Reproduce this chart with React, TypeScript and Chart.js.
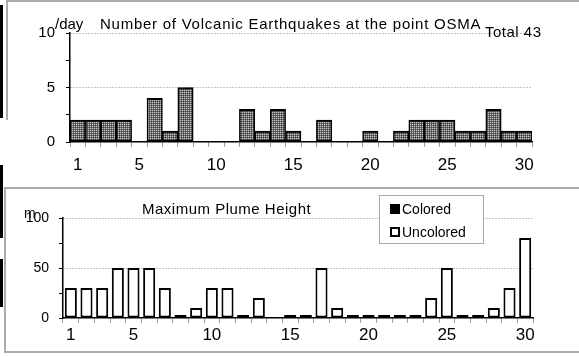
import React, { useEffect, useRef } from "react";
import { Chart, registerables } from "chart.js";

Chart.register(...registerables);

// ---------- data ----------
const dayLabels = [
  "1", "2", "3", "4", "5", "6", "7", "8", "9", "10",
  "11", "12", "13", "14", "15", "16", "17", "18", "19", "20",
  "21", "22", "23", "24", "25", "26", "27", "28", "29", "30",
];
const shownDayTicks = ["1", "5", "10", "15", "20", "25", "30"];

const quakeCounts = [
  2, 2, 2, 2, 0, 4, 1, 5, 0, 0,
  0, 3, 1, 3, 1, 0, 2, 0, 0, 1,
  0, 1, 2, 2, 2, 1, 1, 3, 1, 1,
];
const quakeYTicks = [0, 5, 10];

const plumeColored: (number | null)[] = [];
const plumeUncolored: (number | null)[] = [
  30, 30, 30, 50, 50, 50, 30, 0, 10, 30,
  30, 0, 20, null, 0, 0, 50, 10, 0, 0,
  0, 0, 0, 20, 50, 0, 0, 10, 30, 80,
];
const plumeYTicks = [0, 50, 100];

const quakeTitle = "Number of Volcanic Earthquakes at the point OSMA";
const quakeTotal = "Total 43";
const quakeUnit = "/day";
const plumeTitle = "Maximum Plume Height";
const plumeUnit = "m";
const legendColored = "Colored";
const legendUncolored = "Uncolored";

const FONT = '"Liberation Sans", Arial, sans-serif';

type TextItem = { text: string; x: number; y: number; size: number; ls?: number };

function textPlugin(id: string, items: TextItem[]) {
  return {
    id,
    afterDraw(chart: any) {
      const ctx = chart.ctx as CanvasRenderingContext2D;
      ctx.save();
      ctx.fillStyle = "#000";
      ctx.textBaseline = "alphabetic";
      ctx.textAlign = "left";
      for (const t of items) {
        ctx.font = `${t.size}px ${FONT}`;
        (ctx as any).letterSpacing = `${t.ls || 0}px`;
        ctx.fillText(t.text, t.x, t.y);
      }
      ctx.restore();
    },
  };
}

const legendBoxPlugin = {
  id: "legendBox",
  afterDraw(chart: any) {
    const ctx = chart.ctx as CanvasRenderingContext2D;
    const x = 379, y = 15, w = 104, h = 48;
    ctx.save();
    ctx.fillStyle = "#fff";
    ctx.fillRect(x, y, w, h);
    ctx.strokeStyle = "#a8a8a8";
    ctx.lineWidth = 1;
    ctx.strokeRect(x + 0.5, y + 0.5, w, h);
    chart.data.datasets.forEach((ds: any, i: number) => {
      const top = y + 9 + i * 23;
      ctx.fillStyle = "#000";
      ctx.fillRect(x + 11, top, 10, 10);
      if (ds.backgroundColor === "#ffffff") {
        ctx.fillStyle = "#fff";
        ctx.fillRect(x + 13, top + 2, 6, 6);
      }
      ctx.fillStyle = "#000";
      ctx.font = `14px ${FONT}`;
      ctx.textBaseline = "alphabetic";
      ctx.fillText(ds.label, x + 23, top + 10);
    });
    ctx.restore();
  },
};

function makePattern(): CanvasPattern | string {
  const c = document.createElement("canvas");
  c.width = 2;
  c.height = 2;
  const g = c.getContext("2d");
  if (!g) return "#8a8a8a";
  g.fillStyle = "#6e6e6e";
  g.fillRect(0, 0, 2, 2);
  g.fillStyle = "#c4c4c4";
  g.fillRect(0, 0, 1, 1);
  g.fillStyle = "#3c3c3c";
  g.fillRect(1, 1, 1, 1);
  return g.createPattern(c, "repeat") || "#8a8a8a";
}

function xScale(height: number, pad: number) {
  return {
    type: "category" as const,
    offset: true,
    grid: {
      offset: true,
      drawOnChartArea: false,
      color: "#9a9a9a",
      tickColor: "#9a9a9a",
      tickLength: 5,
      tickBorderDash: [],
    },
    border: { color: "#000", width: 1.5 },
    ticks: {
      autoSkip: false,
      maxRotation: 0,
      minRotation: 0,
      padding: pad,
      color: "#000",
      font: { family: FONT, size: 17 },
      callback: (_v: any, idx: number) =>
        shownDayTicks.includes(dayLabels[idx]) ? dayLabels[idx] : "",
    },
    afterFit: (s: any) => {
      s.height = height;
    },
  };
}

function yScale(max: number, step: number, major: number[], width: number, fontSize: number, pad: number) {
  return {
    min: 0,
    max,
    grid: {
      color: (c: any) =>
        c.tick && c.tick.value > 0 && major.includes(c.tick.value) ? "#8c8c8c" : "rgba(0,0,0,0)",
      tickColor: "#000",
      tickLength: 4,
      lineWidth: 1,
      tickBorderDash: [],
    },
    border: { color: "#000", width: 1.5, dash: [1, 2] },
    ticks: {
      stepSize: step,
      padding: pad,
      color: "#000",
      font: { family: FONT, size: fontSize },
      callback: (v: any) => (major.includes(Number(v)) ? String(v) : ""),
    },
    afterFit: (s: any) => {
      s.width = width;
    },
  };
}

export default function App() {
  const topRef = useRef<HTMLCanvasElement | null>(null);
  const botRef = useRef<HTMLCanvasElement | null>(null);

  useEffect(() => {
    if (!topRef.current || !botRef.current) return;
    const pattern = makePattern();

    const top = new Chart(topRef.current, {
      type: "bar",
      data: {
        labels: dayLabels,
        datasets: [
          {
            label: "Earthquakes",
            data: quakeCounts,
            backgroundColor: pattern as any,
            borderColor: "#000",
            borderWidth: { top: 2, bottom: 2, left: 1.5, right: 1.5 },
            borderSkipped: false,
            barPercentage: 1,
            categoryPercentage: 1,
          },
        ],
      },
      options: {
        responsive: false,
        animation: false,
        layout: { padding: { left: 0, right: 47, top: 33, bottom: 0 } },
        plugins: { legend: { display: false }, tooltip: { enabled: false }, title: { display: false } },
        scales: {
          x: xScale(38, 8) as any,
          y: yScale(10, 2.5, quakeYTicks, 70, 15, 11) as any,
        },
      },
      plugins: [
        textPlugin("quakeTexts", [
          { text: quakeUnit, x: 55, y: 29, size: 15 },
          { text: quakeTitle, x: 100, y: 29, size: 15, ls: 0.75 },
          { text: quakeTotal, x: 485, y: 37, size: 15, ls: 0.5 },
        ]),
      ],
    });

    const bot = new Chart(botRef.current, {
      type: "bar",
      data: {
        labels: dayLabels,
        datasets: [
          {
            label: legendColored,
            data: plumeColored,
            backgroundColor: "#000000",
            borderColor: "#000",
            borderWidth: 2,
            borderSkipped: false,
            grouped: false,
            barPercentage: 0.77,
            categoryPercentage: 1,
          },
          {
            label: legendUncolored,
            data: plumeUncolored,
            backgroundColor: "#ffffff",
            borderColor: "#000",
            borderWidth: 2,
            borderSkipped: false,
            grouped: false,
            minBarLength: 3,
            barPercentage: 0.77,
            categoryPercentage: 1,
          },
        ],
      },
      options: {
        responsive: false,
        animation: false,
        layout: { padding: { left: 0, right: 46, top: 38, bottom: 0 } },
        plugins: { legend: { display: false }, tooltip: { enabled: false }, title: { display: false } },
        scales: {
          x: xScale(38, 2) as any,
          y: yScale(100, 25, plumeYTicks, 63, 14, 10) as any,
        },
      },
      plugins: [
        textPlugin("plumeTexts", [
          { text: plumeTitle, x: 142, y: 34, size: 15, ls: 0.5 },
          { text: plumeUnit, x: 24, y: 38, size: 14 },
        ]),
        legendBoxPlugin,
      ],
    });

    return () => {
      top.destroy();
      bot.destroy();
    };
  }, []);

  const line = (l: number, t: number, w: number, h: number, c: string) => (
    <div style={{ position: "absolute", left: l, top: t, width: w, height: h, background: c }} />
  );

  return (
    <div style={{ position: "fixed", left: 0, top: 0, width: 579, height: 356, background: "#fff", overflow: "hidden" }}>
      {line(6, 0, 573, 2, "#ababab")}
      {line(6, 0, 1.5, 120, "#ababab")}
      {line(4, 187, 575, 2, "#ababab")}
      {line(4, 187, 1.5, 166, "#ababab")}
      {line(4, 351, 575, 2, "#ababab")}
      {line(0, 5, 3, 113, "#000")}
      {line(0, 165, 3, 73, "#000")}
      {line(0, 259, 3, 48, "#000")}
      <canvas ref={topRef} width={579} height={180} style={{ position: "absolute", left: 0, top: 0, width: 579, height: 180 }} />
      <canvas ref={botRef} width={579} height={176} style={{ position: "absolute", left: 0, top: 180, width: 579, height: 176 }} />
    </div>
  );
}
